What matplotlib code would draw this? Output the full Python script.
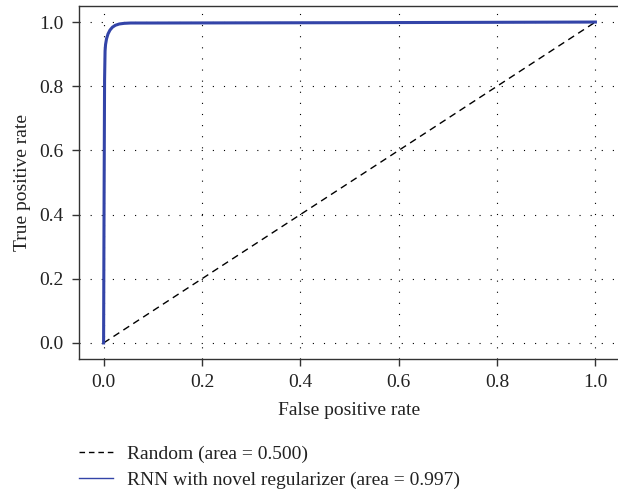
import matplotlib
matplotlib.use("Agg")
import matplotlib.pyplot as plt

plt.rcParams["font.family"] = ["Liberation Serif", "DejaVu Serif"]
plt.rcParams["font.size"] = 14

# ROC points
fpr = [0.0, 0.001, 0.002, 0.003, 0.004, 0.006, 0.009, 0.013, 0.018, 0.024, 0.032, 0.042, 0.055, 0.1, 0.5, 1.0]
tpr = [0.0, 0.45, 0.82, 0.91, 0.93, 0.948, 0.963, 0.975, 0.984, 0.99, 0.994, 0.996, 0.997, 0.997, 0.998, 1.0]
rand_x = [0.0, 1.0]
rand_y = [0.0, 1.0]
ticks = [0.0, 0.2, 0.4, 0.6, 0.8, 1.0]
labels = ["Random (area = 0.500)", "RNN with novel regularizer (area = 0.997)"]

W, H = 618, 491
fig = plt.figure(figsize=(W / 100, H / 100), dpi=100)
ax = fig.add_axes([79 / W, 1 - 359 / H, (620 - 79) / W, (359 - 6) / H])

ax.plot(rand_x, rand_y, color="black", ls=(0, (5, 3.5)), lw=1.0, label=labels[0])
ax.plot(fpr, tpr, color="#3344a8", lw=2.2, label=labels[1])

ax.set_xlim(-0.05, 1.05)
ax.set_ylim(-0.05, 1.05)
ax.set_xticks(ticks)
ax.set_yticks(ticks)
ax.set_xticklabels([f"{t:.1f}" for t in ticks])
ax.set_yticklabels([f"{t:.1f}" for t in ticks])
ax.grid(True, color="black", ls=(0, (1, 9)), lw=0.8)
ax.set_axisbelow(True)
for s in ax.spines.values():
    s.set_color("#333333")
    s.set_linewidth(1.0)
ax.tick_params(direction="out", length=5, width=1.0, color="#333333",
               labelcolor="#222222", pad=6)
ax.set_xlabel("False positive rate", color="#222222", labelpad=8)
ax.set_ylabel("True positive rate", color="#222222", labelpad=6)

leg = fig.legend(loc="upper left", bbox_to_anchor=(79 / W, 1 - 445 / H), frameon=False,
                 handlelength=1.75, handletextpad=0.72, labelspacing=0.45, fontsize=14,
                 labelcolor="#222222", borderaxespad=0, borderpad=0)
for h in leg.legend_handles:
    h.set_linewidth(1.0)
leg.legend_handles[0].set_dashes([4, 2.8])

fig.savefig("out.png", dpi=100, facecolor="white")
